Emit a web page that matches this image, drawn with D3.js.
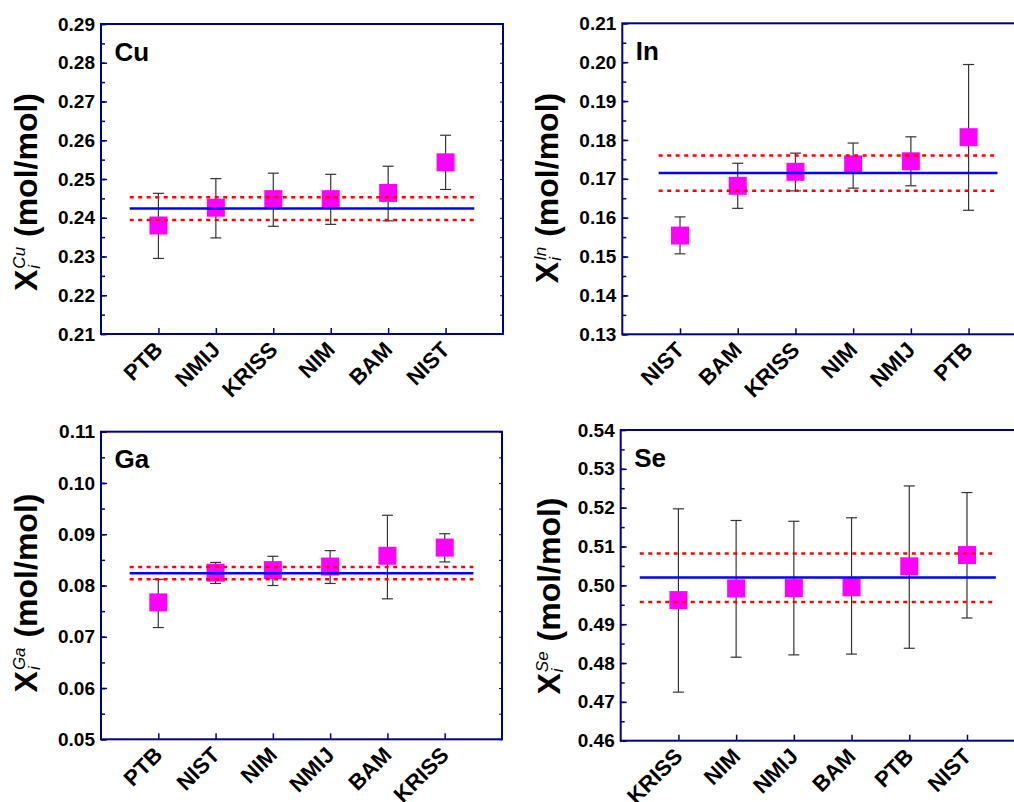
<!DOCTYPE html>
<html>
<head>
<meta charset="utf-8">
<script src="https://cdn.jsdelivr.net/npm/d3@7"></script>
<style>
  body { margin: 0; background: white; }
  text { font-family: "Liberation Sans", Arial, sans-serif; }
</style>
</head>
<body>
<div id="container"></div>
<script>
// values (mole fraction, mol/mol)
// ref arrays: [mean, lower, upper] of the reference value band
let cuLabs = ["PTB", "NMIJ", "KRISS", "NIM", "BAM", "NIST"];
let cuVals = [0.2380, 0.2426, 0.2448, 0.2448, 0.2464, 0.2543];
let cuHi   = [0.2463, 0.2501, 0.2515, 0.2512, 0.2533, 0.2613];
let cuLo   = [0.2295, 0.2348, 0.2378, 0.2383, 0.2392, 0.2473];
let cuRef  = [0.2424, 0.2394, 0.2453];
let cuDomain = [0.21, 0.29];

let inLabs = ["NIST", "BAM", "KRISS", "NIM", "NMIJ", "PTB"];
let inVals = [0.1554, 0.1682, 0.1718, 0.1737, 0.1745, 0.1807];
let inHi   = [0.1602, 0.1740, 0.1766, 0.1792, 0.1808, 0.1994];
let inLo   = [0.1507, 0.1624, 0.1669, 0.1676, 0.1682, 0.1619];
let inRef  = [0.1715, 0.1669, 0.1760];
let inDomain = [0.13, 0.21];

let gaLabs = ["PTB", "NIST", "NIM", "NMIJ", "BAM", "KRISS"];
let gaVals = [0.0767, 0.0825, 0.0830, 0.0837, 0.0858, 0.0874];
let gaHi   = [0.0812, 0.0845, 0.0857, 0.0868, 0.0937, 0.0901];
let gaLo   = [0.0718, 0.0804, 0.0800, 0.0804, 0.0774, 0.0846];
let gaRef  = [0.0824, 0.0812, 0.0836];
let gaDomain = [0.05, 0.11];

let seLabs = ["KRISS", "NIM", "NMIJ", "BAM", "PTB", "NIST"];
let seVals = [0.4962, 0.4992, 0.4993, 0.4995, 0.5049, 0.5078];
let seHi   = [0.5197, 0.5167, 0.5165, 0.5174, 0.5256, 0.5239];
let seLo   = [0.4725, 0.4815, 0.4821, 0.4823, 0.4838, 0.4916];
let seRef  = [0.5020, 0.4957, 0.5082];
let seDomain = [0.46, 0.54];

// x extent (in category units) of the reference lines
let cuSpan = [0.5, 6.5];
let inSpan = [0.63, 6.5];
let gaSpan = [0.5, 6.5];
let seSpan = [0.33, 6.5];

let w = 1014;
let h = 802;
let navy = "#000080";

let viz = d3.select("#container")
  .append("svg")
  .attr("width", w)
  .attr("height", h)
  .style("background-color", "white");

let panels = [
  { name: "Cu", x: 101, y: 24, pw: 402, ph: 310, labs: cuLabs, vals: cuVals, hi: cuHi, lo: cuLo, ref: cuRef, dom: cuDomain, span: cuSpan, tx: 37, ty: 192 },
  { name: "In", x: 622.3, y: 23.3, pw: 404, ph: 311, labs: inLabs, vals: inVals, hi: inHi, lo: inLo, ref: inRef, dom: inDomain, span: inSpan, tx: 558, ty: 188 },
  { name: "Ga", x: 101, y: 431.7, pw: 401, ph: 307.6, labs: gaLabs, vals: gaVals, hi: gaHi, lo: gaLo, ref: gaRef, dom: gaDomain, span: gaSpan, tx: 37, ty: 593 },
  { name: "Se", x: 620.7, y: 430, pw: 404, ph: 310.7, labs: seLabs, vals: seVals, hi: seHi, lo: seLo, ref: seRef, dom: seDomain, span: seSpan, tx: 560, ty: 596 }
];

function styleAxis(sel, fontSize) {
  sel.select(".domain").remove();
  sel.selectAll("line").attr("stroke", navy).attr("stroke-width", 1.5);
  sel.attr("font-family", "'Liberation Sans', Arial, sans-serif")
    .attr("font-size", fontSize)
    .attr("font-weight", "bold");
  sel.selectAll("text").attr("fill", "black");
}

function drawPanel(p) {
  let g = viz.append("g").attr("transform", "translate(" + p.x + "," + p.y + ")");

  let xScale = d3.scaleLinear().domain([0, 7]).range([0, p.pw]);
  let yScale = d3.scaleLinear().domain(p.dom).range([p.ph, 0]);

  let n = Math.round((p.dom[1] - p.dom[0]) / 0.01);
  let majors = yScale.ticks(n);
  let minors = yScale.ticks(n * 2);

  // left axis: minor + major ticks pointing inside
  let leftMinor = g.append("g").call(d3.axisLeft(yScale).tickValues(minors).tickSize(-4).tickFormat(""));
  styleAxis(leftMinor, 19);
  let leftMajor = g.append("g").call(
    d3.axisLeft(yScale).tickValues(majors).tickSize(-6).tickPadding(6).tickFormat(d3.format(".2f"))
  );
  styleAxis(leftMajor, 19);

  // right axis, small ticks only
  let right = g.append("g").attr("transform", "translate(" + p.pw + ",0)")
    .call(d3.axisRight(yScale).tickValues(minors).tickSize(-3).tickFormat(""));
  styleAxis(right, 19);
  right.selectAll("line").attr("stroke-width", 1);

  // bottom axis with rotated lab names
  let bottom = g.append("g").attr("transform", "translate(0," + p.ph + ")")
    .call(d3.axisBottom(xScale).tickValues(d3.range(1, 7)).tickSize(-6).tickFormat(function (d) { return p.labs[d - 1]; }));
  styleAxis(bottom, 22);
  bottom.selectAll("text")
    .attr("x", 0)
    .attr("y", 0)
    .attr("dy", "0em")
    .attr("text-anchor", "end")
    .attr("transform", "translate(5,17) rotate(-45)");

  // frame
  g.append("rect")
    .attr("width", p.pw)
    .attr("height", p.ph)
    .attr("fill", "none")
    .attr("stroke", navy)
    .attr("stroke-width", 2);

  // error bars
  let bars = g.selectAll(".ebar").data(p.vals).enter().append("g").attr("class", "ebar");
  bars.append("line")
    .attr("x1", function (d, i) { return xScale(i + 1); })
    .attr("x2", function (d, i) { return xScale(i + 1); })
    .attr("y1", function (d, i) { return yScale(p.hi[i]); })
    .attr("y2", function (d, i) { return yScale(p.lo[i]); });
  bars.append("line")
    .attr("x1", function (d, i) { return xScale(i + 1) - 5.5; })
    .attr("x2", function (d, i) { return xScale(i + 1) + 5.5; })
    .attr("y1", function (d, i) { return yScale(p.hi[i]); })
    .attr("y2", function (d, i) { return yScale(p.hi[i]); });
  bars.append("line")
    .attr("x1", function (d, i) { return xScale(i + 1) - 5.5; })
    .attr("x2", function (d, i) { return xScale(i + 1) + 5.5; })
    .attr("y1", function (d, i) { return yScale(p.lo[i]); })
    .attr("y2", function (d, i) { return yScale(p.lo[i]); });
  bars.selectAll("line").attr("stroke", "#333").attr("stroke-width", 1.2);

  // squares
  g.selectAll(".pt").data(p.vals).enter().append("rect")
    .attr("class", "pt")
    .attr("x", function (d, i) { return xScale(i + 1) - 9; })
    .attr("y", function (d) { return yScale(d) - 9; })
    .attr("width", 18)
    .attr("height", 18)
    .attr("fill", "#ff00ff");

  // reference value and its band
  g.append("line")
    .attr("x1", xScale(p.span[0])).attr("x2", xScale(p.span[1]))
    .attr("y1", yScale(p.ref[0])).attr("y2", yScale(p.ref[0]))
    .attr("stroke", "#0000ff").attr("stroke-width", 2.5);
  g.selectAll(".band").data([p.ref[1], p.ref[2]]).enter().append("line")
    .attr("class", "band")
    .attr("x1", xScale(p.span[0])).attr("x2", xScale(p.span[1]))
    .attr("y1", function (d) { return yScale(d); })
    .attr("y2", function (d) { return yScale(d); })
    .attr("stroke", "#ff0000").attr("stroke-width", 2.5)
    .attr("stroke-dasharray", "4,4.5");

  // element name
  g.append("text")
    .attr("x", 13.5)
    .attr("y", 36.5)
    .attr("font-size", 26)
    .attr("font-weight", "bold")
    .text(p.name);

  drawYTitle(p);
}

function drawYTitle(p) {
  let t = viz.append("g");
  let x1 = t.append("text").attr("font-size", 32).attr("font-weight", "bold").text("X");
  let xw = x1.node().getComputedTextLength();
  let sup = t.append("text").attr("x", xw + 1).attr("y", -12)
    .attr("font-size", 17).attr("font-style", "italic").text(p.name);
  t.append("text").attr("x", xw + 1).attr("y", 3)
    .attr("font-size", 17).attr("font-style", "italic").text("i");
  let supw = sup.node().getComputedTextLength();
  let rest = t.append("text").attr("x", xw + supw + 2)
    .attr("font-size", 32).attr("font-weight", "bold").text("\u00a0(mol/mol)");
  let total = xw + supw + 2 + rest.node().getComputedTextLength();
  t.attr("transform", "translate(" + p.tx + "," + (p.ty + total / 2) + ") rotate(-90)");
}

panels.forEach(drawPanel);
</script>
</body>
</html>
